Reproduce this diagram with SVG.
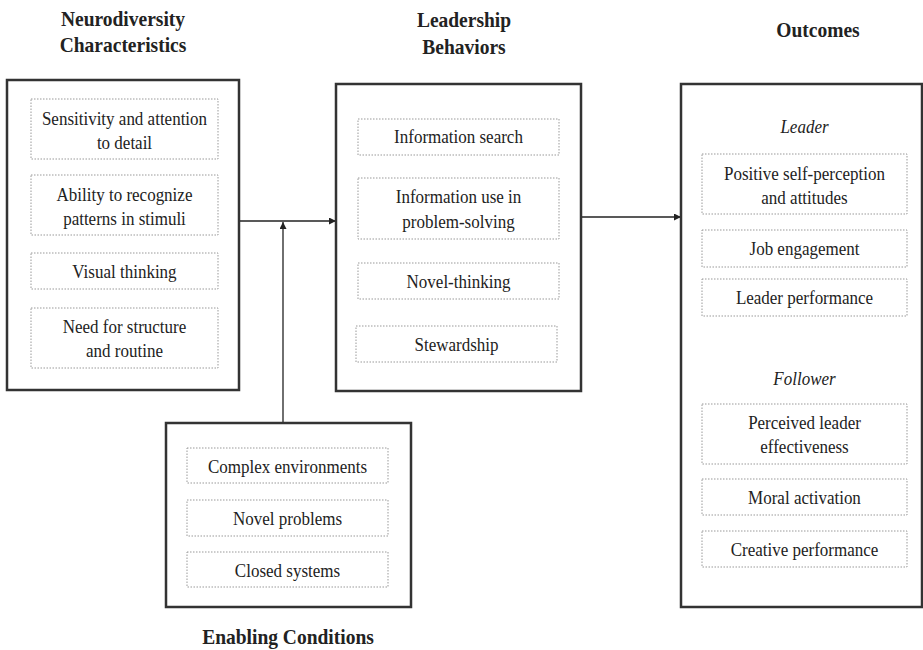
<svg xmlns="http://www.w3.org/2000/svg" width="923" height="650" viewBox="0 0 923 650">
<defs>
<marker id="ah" viewBox="0 0 10 10" refX="10" refY="5" markerWidth="7" markerHeight="7" markerUnits="userSpaceOnUse" orient="auto">
<path d="M0,0 L10,5 L0,10 z" fill="#222"/>
</marker>
<style>
.outer{fill:#fff;stroke:#333;stroke-width:2.5}
.inner{fill:#fff;stroke:#999;stroke-width:1;stroke-dasharray:1.5 1.5}
.t{font-family:"Liberation Serif","Times New Roman",serif;font-size:17px;fill:#222;text-anchor:middle}
.it{font-style:italic}
.h{font-family:"Liberation Serif","Times New Roman",serif;font-size:19.5px;font-weight:bold;fill:#222;text-anchor:middle}
.c{fill:none;stroke:#222;stroke-width:1.3}
</style>
</defs>
<rect width="923" height="650" fill="#fff"/>

<g id="titles">
<text class="h" transform="scale(1 1.12)" x="123" y="23.21">Neurodiversity</text>
<text class="h" transform="scale(1 1.12)" x="123" y="46.43">Characteristics</text>
<text class="h" transform="scale(1 1.12)" x="464" y="24.11">Leadership</text>
<text class="h" transform="scale(1 1.12)" x="464" y="48.21">Behaviors</text>
<text class="h" transform="scale(1 1.12)" x="818" y="33.04">Outcomes</text>
<text class="h" transform="scale(1 1.12)" x="288" y="575">Enabling Conditions</text>
</g>

<g id="connectors">
<line class="c" x1="239" y1="221" x2="336" y2="221" marker-end="url(#ah)"/>
<line class="c" x1="283" y1="423" x2="283" y2="222" marker-end="url(#ah)"/>
<line class="c" x1="581" y1="217" x2="681" y2="217" marker-end="url(#ah)"/>
</g>

<g id="neurodiversity">
<rect class="outer" x="7" y="80" width="232" height="310"/>
<rect class="inner" x="31" y="99" width="187" height="60"/>
<text class="t" transform="scale(1 1.1)" x="124.5" y="113.64">Sensitivity and attention</text>
<text class="t" transform="scale(1 1.1)" x="124.5" y="135.45">to detail</text>
<rect class="inner" x="31" y="175" width="187" height="60"/>
<text class="t" transform="scale(1 1.1)" x="124.5" y="182.73">Ability to recognize</text>
<text class="t" transform="scale(1 1.1)" x="124.5" y="204.55">patterns in stimuli</text>
<rect class="inner" x="31" y="253" width="187" height="36"/>
<text class="t" transform="scale(1 1.1)" x="124.5" y="252.73">Visual thinking</text>
<rect class="inner" x="31" y="308" width="187" height="60"/>
<text class="t" transform="scale(1 1.1)" x="124.5" y="302.73">Need for structure</text>
<text class="t" transform="scale(1 1.1)" x="124.5" y="324.55">and routine</text>
</g>

<g id="leadership">
<rect class="outer" x="336" y="84" width="245" height="307"/>
<rect class="inner" x="358" y="119" width="201" height="36"/>
<text class="t" transform="scale(1 1.1)" x="458.5" y="130">Information search</text>
<rect class="inner" x="358" y="178" width="201" height="61"/>
<text class="t" transform="scale(1 1.1)" x="458.5" y="184.55">Information use in</text>
<text class="t" transform="scale(1 1.1)" x="458.5" y="207.27">problem-solving</text>
<rect class="inner" x="358" y="263" width="201" height="36"/>
<text class="t" transform="scale(1 1.1)" x="458.5" y="261.82">Novel-thinking</text>
<rect class="inner" x="356" y="326" width="201" height="36"/>
<text class="t" transform="scale(1 1.1)" x="456.5" y="319.09">Stewardship</text>
</g>

<g id="outcomes">
<rect class="outer" x="681" y="84" width="241" height="523"/>
<text class="t it" transform="scale(1 1.1)" x="804.5" y="120.91">Leader</text>
<rect class="inner" x="702" y="154" width="205" height="60"/>
<text class="t" transform="scale(1 1.1)" x="804.5" y="163.64">Positive self-perception</text>
<text class="t" transform="scale(1 1.1)" x="804.5" y="185.45">and attitudes</text>
<rect class="inner" x="702" y="230" width="205" height="37"/>
<text class="t" transform="scale(1 1.1)" x="804.5" y="231.82">Job engagement</text>
<rect class="inner" x="702" y="279" width="205" height="37"/>
<text class="t" transform="scale(1 1.1)" x="804.5" y="276.36">Leader performance</text>
<text class="t it" transform="scale(1 1.1)" x="804.5" y="350">Follower</text>
<rect class="inner" x="702" y="404" width="205" height="60"/>
<text class="t" transform="scale(1 1.1)" x="804.5" y="390">Perceived leader</text>
<text class="t" transform="scale(1 1.1)" x="804.5" y="411.82">effectiveness</text>
<rect class="inner" x="702" y="479" width="205" height="36"/>
<text class="t" transform="scale(1 1.1)" x="804.5" y="458.18">Moral activation</text>
<rect class="inner" x="702" y="531" width="205" height="36"/>
<text class="t" transform="scale(1 1.1)" x="804.5" y="505.45">Creative performance</text>
</g>

<g id="enabling">
<rect class="outer" x="166" y="423" width="245" height="184"/>
<rect class="inner" x="187" y="448" width="201" height="35"/>
<text class="t" transform="scale(1 1.1)" x="287.5" y="430">Complex environments</text>
<rect class="inner" x="187" y="500" width="201" height="36"/>
<text class="t" transform="scale(1 1.1)" x="287.5" y="477.27">Novel problems</text>
<rect class="inner" x="187" y="552" width="201" height="35"/>
<text class="t" transform="scale(1 1.1)" x="287.5" y="524.55">Closed systems</text>
</g>
</svg>
